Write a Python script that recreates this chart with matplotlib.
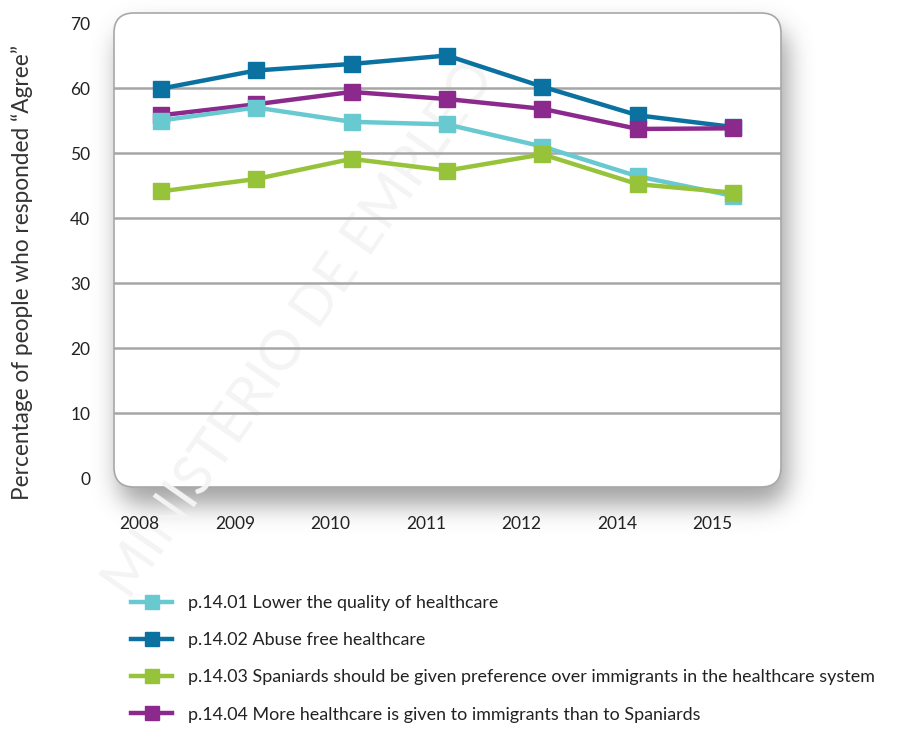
import numpy as np
import matplotlib
matplotlib.use("Agg")
import matplotlib.pyplot as plt
from matplotlib.patches import FancyBboxPatch
from matplotlib.lines import Line2D
import matplotlib.transforms as mtransforms

plt.rcParams['font.family'] = ['Lato', 'DejaVu Sans']

years = ['2008', '2009', '2010', '2011', '2012', '2014', '2015']
quality = [55.0, 57.0, 54.8, 54.4, 51.0, 46.4, 43.4]
abuse = [59.9, 62.7, 63.7, 65.0, 60.2, 55.8, 54.0]
preference = [44.1, 46.0, 49.1, 47.3, 49.8, 45.2, 43.9]
more_given = [55.8, 57.5, 59.4, 58.3, 56.8, 53.7, 53.8]

labels = ['p.14.01 Lower the quality of healthcare',
          'p.14.02 Abuse free healthcare',
          'p.14.03 Spaniards should be given preference over immigrants in the healthcare system',
          'p.14.04 More healthcare is given to immigrants than to Spaniards']
colors = ['#69c9d0', '#0a71a0', '#97c33a', '#8b2a8c']

W, H = 900, 730
fig = plt.figure(figsize=(W / 100, H / 100), dpi=100)

# box of the plot area, in pixels from the top-left corner
bx0, by0, bx1, by1 = 114, 13, 781, 487

# soft drop shadow under the rounded box
yy, xx = np.mgrid[0:H, 0:W].astype(float)
sx0, sy0, sx1, sy1, r = bx0 + 4, by0 + 14, bx1 + 6, by1 + 17, 22
dx = np.maximum(np.maximum(sx0 + r - xx, xx - (sx1 - r)), 0)
dy = np.maximum(np.maximum(sy0 + r - yy, yy - (sy1 - r)), 0)
mask = (np.hypot(dx, dy) <= r).astype(float)
k = np.exp(-0.5 * (np.arange(-36, 37) / 12.0) ** 2)
k /= k.sum()
mask = np.apply_along_axis(lambda v: np.convolve(v, k, mode='same'), 0, mask)
mask = np.apply_along_axis(lambda v: np.convolve(v, k, mode='same'), 1, mask)
shadow = np.zeros((H, W, 4))
shadow[..., :3] = 0.45
shadow[..., 3] = mask * 0.65
fig.figimage(shadow, 0, 0, origin='upper', zorder=0)

box = FancyBboxPatch((bx0 / 100, (H - by1) / 100), (bx1 - bx0) / 100, (by1 - by0) / 100,
                     boxstyle='round,pad=0,rounding_size=0.2',
                     transform=fig.dpi_scale_trans, facecolor='white',
                     edgecolor='#a8a8a8', linewidth=1.2, zorder=1)
fig.patches.append(box)

# faint watermark across the figure
fig.text(300 / W, 1 - 330 / H, 'MINISTERIO DE EMPLEO',
         rotation=55, fontsize=40, color='#f4f4f4', ha='center', va='center', zorder=1.5)

ax = fig.add_axes([bx0 / W, 1 - by1 / H, (bx1 - bx0) / W, (by1 - by0) / H], zorder=2)
ax.patch.set_visible(False)
for s in ax.spines.values():
    s.set_visible(False)

x = np.arange(len(years))
series = [quality, abuse, preference, more_given]
draw_order = [2, 0, 3, 1]
for i, vals in enumerate(series):
    ax.plot(x, vals, color=colors[i], lw=3.2, marker='s', markersize=11,
            solid_joinstyle='miter', zorder=3 + draw_order[i])

ax.set_xlim(-0.49, 6.5)
ax.set_ylim(-1.38, 71.54)
ax.set_yticks(range(0, 71, 10))
ax.set_xticks(x)
ax.set_xticklabels(years)
for yv in range(10, 61, 10):
    ax.axhline(yv, color='#a6a6a6', lw=1.8, zorder=1)
ax.tick_params(length=0, labelsize=12.5, colors='#222222')
ax.tick_params(axis='y', pad=17)
ax.tick_params(axis='x', pad=21)
off = mtransforms.ScaledTranslation(-0.21, 0, fig.dpi_scale_trans)
for lab in ax.get_xticklabels():
    lab.set_transform(lab.get_transform() + off)

fig.text(22 / W, 1 - 272 / H, 'Percentage of people who responded \u201cAgree\u201d',
         rotation=90, fontsize=16.3, color='#333333', ha='center', va='center')

leg_handles = [Line2D([], [], color=c, lw=3.2, marker='s', markersize=10) for c in colors]
fig.legend(leg_handles, labels, loc='upper left', bbox_to_anchor=(124 / W, 1 - 588 / H),
           frameon=False, fontsize=12.9, labelcolor='#222222', handlelength=2.3,
           handletextpad=0.9, labelspacing=1.18, numpoints=1, borderaxespad=0)

fig.savefig('out.png', dpi=100)
